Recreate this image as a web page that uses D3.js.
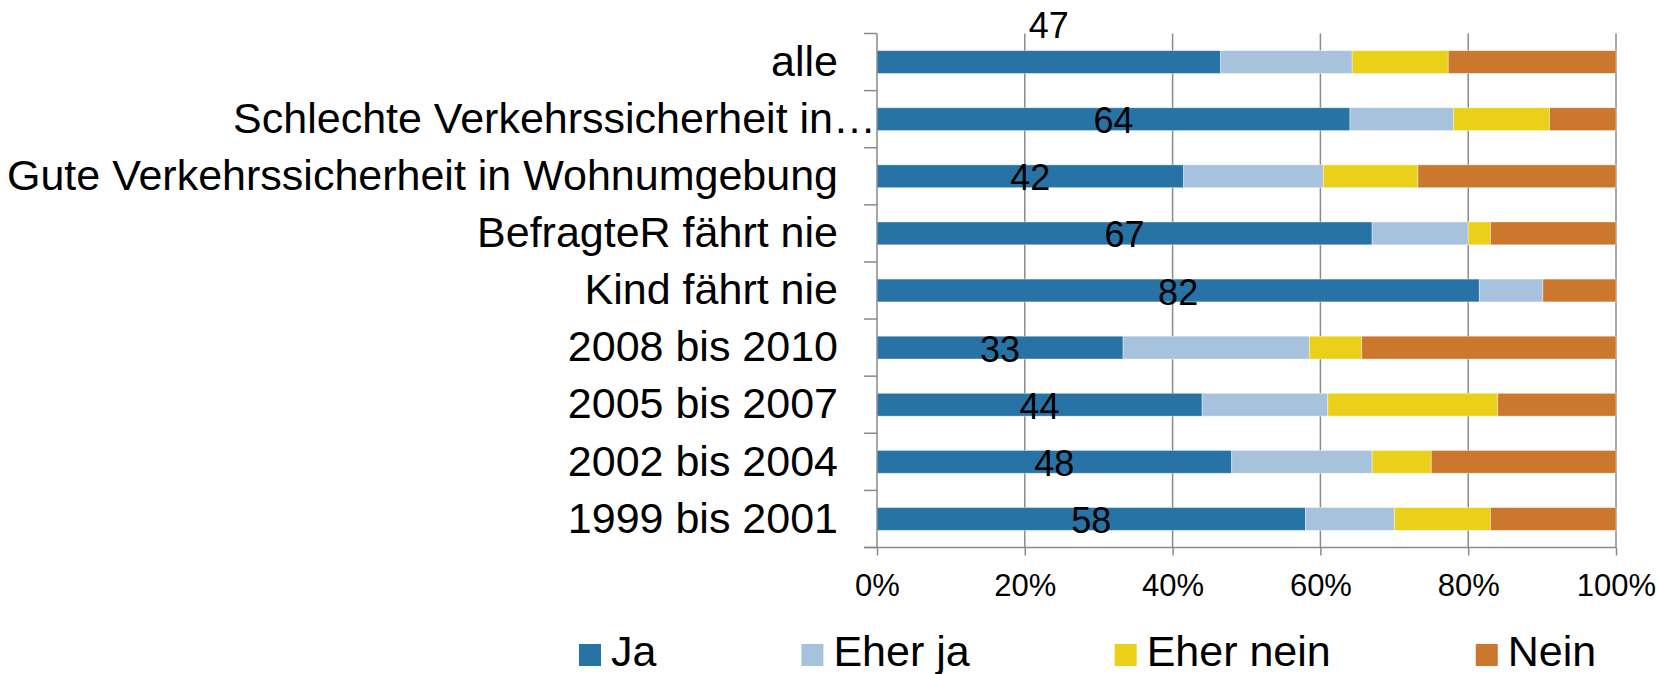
<!DOCTYPE html>
<html lang="de">
<head>
  <meta charset="UTF-8">
  <title>Chart</title>
  <script src="https://d3js.org/d3.v7.min.js"></script>
  <style>
    body { margin: 0; background: #fff; }
    svg { display: block; font-family: "Liberation Sans", Arial, sans-serif; }
  </style>
</head>
<body>
  <div id="chart"></div>
  <script>

    // categories (top to bottom) and the four answer series, in percent
    var categories = ["alle", "Schlechte Verkehrssicherheit in…", "Gute Verkehrssicherheit in Wohnumgebung",
      "BefragteR fährt nie", "Kind fährt nie", "2008 bis 2010", "2005 bis 2007", "2002 bis 2004", "1999 bis 2001"];
    var ja       = [46.5, 64.0, 41.5, 67.0, 81.5, 33.3, 44.0, 48.0, 58.0];
    var eherJa   = [17.8, 14.0, 18.9, 13.0,  8.6, 25.2, 17.0, 19.0, 12.0];
    var eherNein = [13.0, 13.0, 12.8,  3.0,  0.0,  7.1, 23.0,  8.0, 13.0];
    var nein     = [22.7,  9.0, 26.8, 17.0,  9.9, 34.4, 16.0, 25.0, 17.0];
    var seriesNames = ["Ja", "Eher ja", "Eher nein", "Nein"];
    var xTicks = [0, 20, 40, 60, 80, 100];

    var colors = ["#2873a6", "#a7c2dd", "#ebd01a", "#cb772d"];
    var keys = ["ja", "eherJa", "eherNein", "nein"];

    var W = 1659, H = 674;
    var margin = { top: 33.5, left: 877, right: 43, bottom: 126.5 };
    var width = W - margin.left - margin.right,
        height = H - margin.top - margin.bottom;

    var svg = d3.select("#chart").append("svg")
      .attr("width", W).attr("height", H);
    var g = svg.append("g")
      .attr("transform", "translate(" + margin.left + "," + margin.top + ")");

    var table = categories.map(function (c, i) {
      return { cat: c, ja: ja[i], eherJa: eherJa[i], eherNein: eherNein[i], nein: nein[i] };
    });
    var stacked = d3.stack().keys(keys)(table);

    var x = d3.scaleLinear().domain([0, 100]).range([0, width]);
    var y = d3.scaleBand().domain(categories).range([0, height])
      .paddingInner(0.6).paddingOuter(0.3);
    var step = y.step();

    var axisColor = "#8a8a8a";

    // vertical gridlines
    g.append("g").selectAll("line")
      .data(xTicks.slice(1))
      .enter().append("line")
      .attr("x1", function (d) { return x(d); })
      .attr("x2", function (d) { return x(d); })
      .attr("y1", 0).attr("y2", height)
      .attr("stroke", axisColor).attr("stroke-width", 1.5);

    // bars
    g.append("g").selectAll("g")
      .data(stacked)
      .enter().append("g")
      .attr("fill", function (d, i) { return colors[i]; })
      .selectAll("rect")
      .data(function (d) { return d; })
      .enter().append("rect")
      .attr("x", function (d) { return x(d[0]); })
      .attr("width", function (d) { return x(d[1]) - x(d[0]); })
      .attr("y", function (d) { return y(d.data.cat); })
      .attr("height", y.bandwidth())
      .attr("stroke", "#fff").attr("stroke-opacity", 0.5).attr("stroke-width", 0.8);

    // x axis
    var xAxis = g.append("g")
      .attr("transform", "translate(0," + height + ")")
      .call(d3.axisBottom(x).tickValues(xTicks)
        .tickFormat(function (d) { return d + "%"; })
        .tickSize(8).tickPadding(18).tickSizeOuter(0));
    xAxis.select(".domain").remove();
    xAxis.append("line")
      .attr("x1", -13).attr("x2", width)
      .attr("stroke", axisColor).attr("stroke-width", 1.5);
    xAxis.selectAll(".tick line").attr("stroke", axisColor).attr("stroke-width", 1.5);
    xAxis.selectAll("text")
      .attr("fill", "#000").style("font-size", "31px")
      .style("font-family", "'Liberation Sans', Arial, sans-serif");

    // y axis: labels from the band scale, ticks at band boundaries
    var yAxis = g.append("g")
      .call(d3.axisLeft(y).tickSize(0).tickPadding(39));
    yAxis.select(".domain").remove();
    yAxis.selectAll("text")
      .attr("fill", "#000").attr("dy", "0.32em").style("font-size", "43px")
      .style("font-family", "'Liberation Sans', Arial, sans-serif")
      .attr("x", function (d) { return d.indexOf("…") >= 0 ? -1 : -39; });

    var bounds = categories.map(function (c) { return y(c) - step * 0.3; }).concat([height]);
    g.append("g").selectAll("line")
      .data(bounds)
      .enter().append("line")
      .attr("x1", -13).attr("x2", 0)
      .attr("y1", function (d) { return d; }).attr("y2", function (d) { return d; })
      .attr("stroke", axisColor).attr("stroke-width", 1.5);
    g.append("line")
      .attr("x1", 0).attr("x2", 0).attr("y1", 0).attr("y2", height)
      .attr("stroke", axisColor).attr("stroke-width", 1.5);

    // data labels on the "Ja" segments (the first one sits above the plot)
    g.append("g").selectAll("text")
      .data(stacked[0])
      .enter().append("text")
      .attr("x", function (d) { return x((d[0] + d[1]) / 2); })
      .attr("y", function (d, i) {
        return i === 0 ? 4.5 : y(d.data.cat) + y.bandwidth() / 2 + 14;
      })
      .attr("text-anchor", "middle")
      .style("font-size", "36px")
      .text(function (d) { return Math.round(d[1] - d[0]); });

    // legend
    var legend = svg.append("g").attr("transform", "translate(579,644)");
    var lx = 0;
    seriesNames.forEach(function (name, i) {
      var item = legend.append("g").attr("transform", "translate(" + lx + ",0)");
      item.append("rect").attr("width", 22).attr("height", 22).attr("fill", colors[i]);
      var t = item.append("text").attr("x", 32).attr("y", 22)
        .style("font-size", "43px").text(name);
      lx += 32 + t.node().getComputedTextLength() + 145;
    });

  </script>
</body>
</html>
